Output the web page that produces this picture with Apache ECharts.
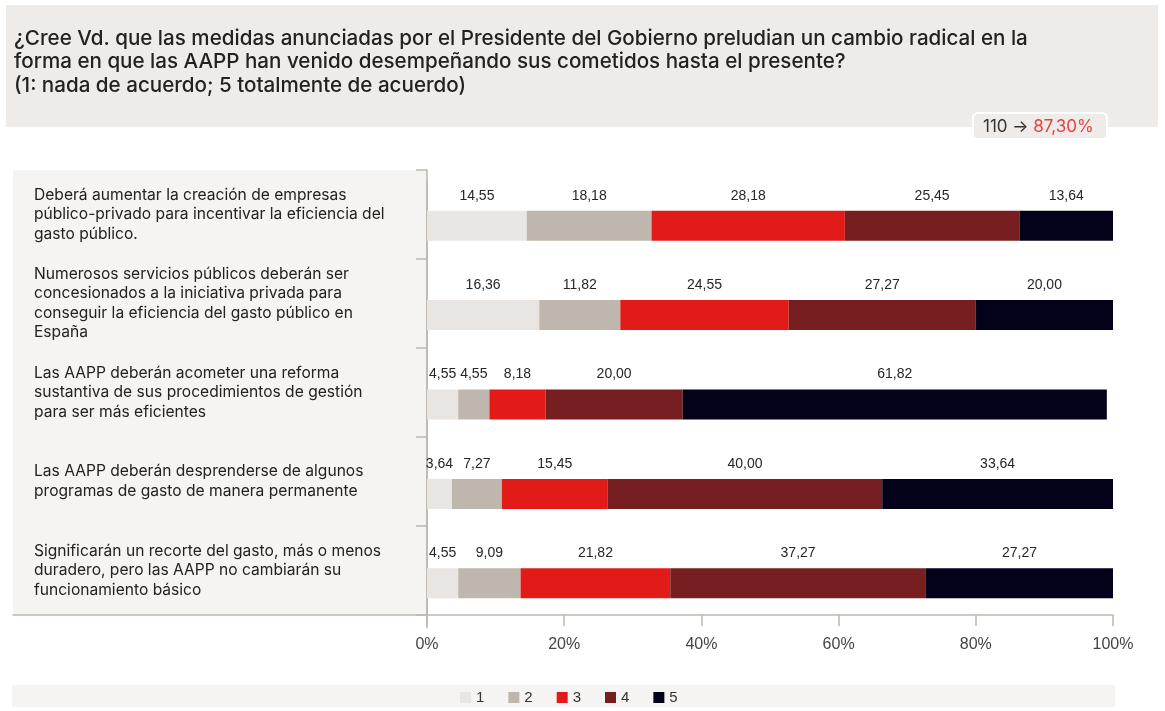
<!DOCTYPE html>
<html>
<head>
<meta charset="utf-8">
<script src="https://cdn.jsdelivr.net/npm/echarts@6/dist/echarts.min.js"></script>
<style>
html,body{margin:0;padding:0;background:#fff;}
#chart{width:1165px;height:711px;}
</style>
</head>
<body>
<div id="chart"></div>
<script>
// ---- data ----
const titleText = '¿Cree Vd. que las medidas anunciadas por el Presidente del Gobierno preludian un cambio radical en la\nforma en que las AAPP han venido desempeñando sus cometidos hasta el presente?\n(1: nada de acuerdo; 5 totalmente de acuerdo)';
const badgeCount = '110';
const badgePct = '87,30%';
const categories = [
  'Deberá aumentar la creación de empresas\npúblico-privado para incentivar la eficiencia del\ngasto público.',
  'Numerosos servicios públicos deberán ser\nconcesionados a la iniciativa privada para\nconseguir la eficiencia del gasto público en\nEspaña',
  'Las AAPP deberán acometer una reforma\nsustantiva de sus procedimientos de gestión\npara ser más eficientes',
  'Las AAPP deberán desprenderse de algunos\nprogramas de gasto de manera permanente',
  'Significarán un recorte del gasto, más o menos\nduradero, pero las AAPP no cambiarán su\nfuncionamiento básico'
];
const seriesNames = ['1', '2', '3', '4', '5'];
const s1 = [14.55, 16.36, 4.55, 3.64, 4.55];
const s2 = [18.18, 11.82, 4.55, 7.27, 9.09];
const s3 = [28.18, 24.55, 8.18, 15.45, 21.82];
const s4 = [25.45, 27.27, 20.00, 40.00, 37.27];
const s5 = [13.64, 20.00, 61.82, 33.64, 27.27];
const seriesValues = [s1, s2, s3, s4, s5];
const xTicks = [0, 20, 40, 60, 80, 100];
const colors = ['#e9e5e2', '#bfb6ad', '#e31b18', '#771f20', '#03021a'];

const axisGray = '#bdb6ae';
const chart = echarts.init(document.getElementById('chart'), null, {renderer: 'canvas'});

const series = seriesValues.map((vals, i) => ({
  name: seriesNames[i],
  type: 'bar',
  stack: 'total',
  xAxisIndex: 0,
  yAxisIndex: 0,
  barWidth: 30,
  data: vals,
  itemStyle: {color: colors[i]},
  label: {
    show: true,
    position: 'top',
    distance: 8,
    color: '#262626',
    fontFamily: '"Liberation Sans", Arial, sans-serif',
    fontSize: 14,
    formatter: p => p.value.toFixed(2).replace('.', ',')
  },
  emphasis: {disabled: true}
}));

chart.setOption({
  animation: false,
  backgroundColor: '#fff',
  graphic: [
    {type: 'rect', z: -10, shape: {x: 6, y: 5, width: 1152, height: 122}, style: {fill: '#eeebe8'}, silent: true},
    {type: 'rect', z: -10, shape: {x: 12, y: 685, width: 1103, height: 22}, style: {fill: '#f5f4f2'}, silent: true}
  ],
  title: [
    {
      text: titleText,
      left: 14, top: 27,
      padding: 0,
      textStyle: {fontFamily: 'Inter, "Noto Sans", sans-serif', fontWeight: 500, fontSize: 20.6, lineHeight: 23.5, color: '#222'}
    },
    {
      text: '{a|' + badgeCount + ' → }{b|' + badgePct + '}',
      left: 973, top: 113,
      padding: [5, 14, 4, 10],
      backgroundColor: '#eeebe8',
      borderColor: '#ffffff',
      borderWidth: 2,
      borderRadius: 5,
      textStyle: {
        rich: {
          a: {fontFamily: 'Inter, sans-serif', fontWeight: 'normal', fontSize: 17, color: '#333', lineHeight: 17},
          b: {fontFamily: 'Inter, sans-serif', fontWeight: 'normal', fontSize: 17, color: '#e8403f', lineHeight: 17}
        }
      }
    }
  ],
  legend: {
    data: seriesNames,
    left: 455, top: 685,
    icon: 'rect',
    itemWidth: 11, itemHeight: 11,
    itemGap: 24,
    selectedMode: false,
    textStyle: {fontFamily: '"Liberation Sans", Arial, sans-serif', fontSize: 15, color: '#333'}
  },
  grid: [
    {left: 427, right: 52, top: 181, height: 447, containLabel: false},
    {left: 13, width: 414, top: 170, height: 445, show: true, backgroundColor: '#f5f4f2', borderWidth: 0}
  ],
  xAxis: [
    {
      type: 'value', gridIndex: 0, min: 0, max: 100, interval: 20,
      offset: -13,
      axisLine: {show: true, lineStyle: {color: axisGray, width: 1.5}},
      axisTick: {show: true, length: 11, lineStyle: {color: axisGray, width: 1.5}},
      splitLine: {show: false},
      axisLabel: {
        margin: 22,
        color: '#444',
        fontFamily: '"Liberation Sans", Arial, sans-serif',
        fontSize: 16,
        customValues: xTicks,
        formatter: v => v + '%'
      }
    },
    {
      type: 'value', gridIndex: 1, min: 0, max: 1,
      axisLine: {show: true, onZero: false, lineStyle: {color: axisGray, width: 1.5}},
      axisTick: {show: false}, axisLabel: {show: false}, splitLine: {show: false}
    }
  ],
  yAxis: [
    {
      type: 'category', gridIndex: 0, inverse: true, data: categories,
      axisLine: {show: true, lineStyle: {color: axisGray, width: 1.5}},
      axisTick: {show: false}, axisLabel: {show: false}, splitLine: {show: false}
    },
    {
      type: 'category', gridIndex: 1, inverse: true, data: categories,
      position: 'right',
      axisLine: {show: true, onZero: false, lineStyle: {color: axisGray, width: 1.5}},
      axisTick: {show: true, inside: true, length: 11, lineStyle: {color: axisGray, width: 1.5}},
      splitLine: {show: false},
      axisLabel: {
        inside: true,
        margin: 393,
        align: 'left',
        color: '#222',
        fontFamily: 'Inter, "Noto Sans", sans-serif',
        fontSize: 15.6,
        lineHeight: 19.5
      }
    }
  ],
  series: series
});
</script>
</body>
</html>
